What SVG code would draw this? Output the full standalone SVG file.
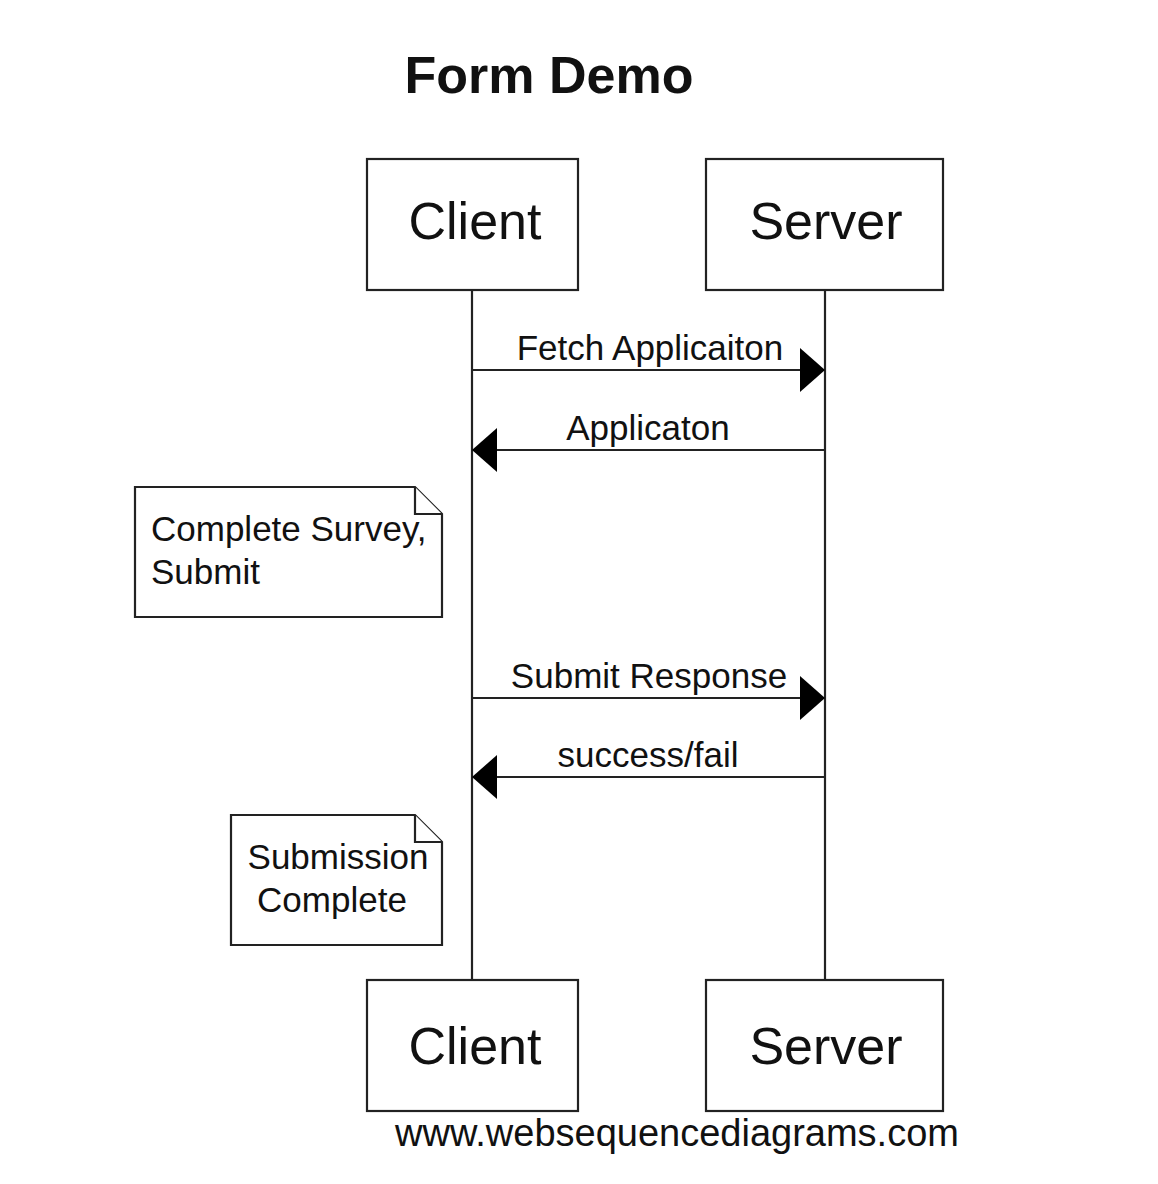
<svg xmlns="http://www.w3.org/2000/svg" width="1158" height="1184" viewBox="0 0 1158 1184">
<style>
  .box { fill: #fff; stroke: #222; stroke-width: 2.2; }
  .life { stroke: #222; stroke-width: 2.2; fill: none; }
  .msg { stroke: #222; stroke-width: 2.2; fill: none; }
  .t { font-family: "Liberation Sans", Arial, sans-serif; fill: #111; }
  .actor { font-size: 52px; text-anchor: middle; }
  .lbl { font-size: 35px; text-anchor: middle; }
  .note { font-size: 35px; }
</style>
<defs>
  <marker id="ah" markerWidth="25" markerHeight="44" refX="25" refY="22" orient="auto" markerUnits="userSpaceOnUse">
    <path d="M0,0 L25,22 L0,44 Z" fill="#000"/>
  </marker>
</defs>
<rect width="1158" height="1184" fill="#fff"/>
<text class="t" x="549" y="93" font-size="52" font-weight="bold" text-anchor="middle">Form Demo</text>

<g id="lifelines">
  <line class="life" x1="472" y1="290" x2="472" y2="980"/>
  <line class="life" x1="825" y1="290" x2="825" y2="980"/>
</g>

<g id="client-top">
  <rect class="box" x="367" y="159" width="211" height="131"/>
  <text class="t actor" x="475" y="239">Client</text>
</g>
<g id="server-top">
  <rect class="box" x="706" y="159" width="237" height="131"/>
  <text class="t actor" x="826" y="239">Server</text>
</g>
<g id="client-bottom">
  <rect class="box" x="367" y="980" width="211" height="131"/>
  <text class="t actor" x="475" y="1064">Client</text>
</g>
<g id="server-bottom">
  <rect class="box" x="706" y="980" width="237" height="131"/>
  <text class="t actor" x="826" y="1064">Server</text>
</g>

<g id="connectors">
  <line class="msg" x1="472" y1="370" x2="825" y2="370" marker-end="url(#ah)"/>
  <text class="t lbl" x="650" y="360">Fetch Applicaiton</text>
  <line class="msg" x1="825" y1="450" x2="472" y2="450" marker-end="url(#ah)"/>
  <text class="t lbl" x="648" y="440">Applicaton</text>
  <line class="msg" x1="472" y1="698" x2="825" y2="698" marker-end="url(#ah)"/>
  <text class="t lbl" x="649" y="688">Submit Response</text>
  <line class="msg" x1="825" y1="777" x2="472" y2="777" marker-end="url(#ah)"/>
  <text class="t lbl" x="648" y="767">success/fail</text>
</g>

<g id="note1">
  <path class="box" d="M135,487 L415,487 L442,514 L442,617 L135,617 Z"/>
  <path class="box" d="M415,487 L415,514 L442,514" fill="none"/>
  <text class="t note" x="151" y="541">Complete Survey,</text>
  <text class="t note" x="151" y="584">Submit</text>
</g>

<g id="note2">
  <path class="box" d="M231,815 L415,815 L442,842 L442,945 L231,945 Z"/>
  <path class="box" d="M415,815 L415,842 L442,842" fill="none"/>
  <text class="t note" x="338" y="869" text-anchor="middle">Submission</text>
  <text class="t note" x="332" y="912" text-anchor="middle">Complete</text>
</g>

<text class="t" x="677" y="1146" font-size="38" text-anchor="middle">www.websequencediagrams.com</text>
</svg>
